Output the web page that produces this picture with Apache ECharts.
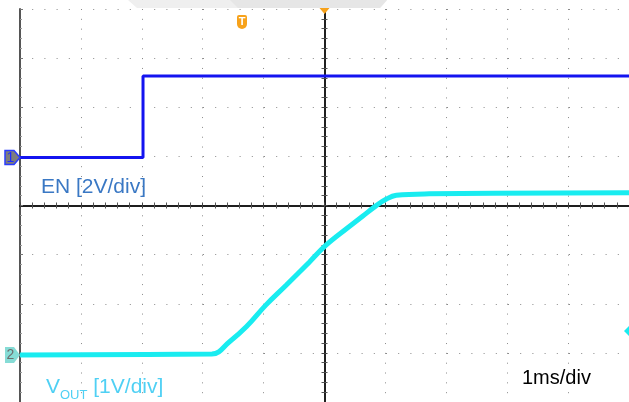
<!DOCTYPE html>
<html>
<head>
<meta charset="utf-8">
<script src="https://cdn.jsdelivr.net/npm/echarts@6/dist/echarts.min.js"></script>
<style>
html,body{margin:0;padding:0;background:#fff;}
#c{width:629px;height:402px;}
</style>
</head>
<body>
<div id="c"></div>
<script>
// ---- data (time in ms, volts) ----
var enTime   = [-5, -2.98, -2.98, 5];
var enVolts  = [0, 0, 3.32, 3.32];
var voutTime  = [-5, -1.85, -1.56, -1.28, -0.96, -0.63, -0.25, 0.02, 0.36, 0.63, 0.85, 1.01, 1.18, 1.72, 5];
var voutVolts = [0, 0.02, 0.27, 0.58, 1.02, 1.42, 1.89, 2.23, 2.57, 2.83, 3.04, 3.17, 3.25, 3.28, 3.3];
var labelEN = 'EN [2V/div]';
var labelTime = '1ms/div';

var chart = echarts.init(document.getElementById('c'), null, {renderer: 'canvas'});

function pairs(xs, ys){ return xs.map(function(x,i){ return [x, ys[i]]; }); }

var dotColor = '#8a8a8a';
var centerAxis = function(inside){
  return {
    type: 'value', min: -5, max: 5, interval: 1, gridIndex: 0,
    axisLine: {show: true, onZero: true, onZeroAxisIndex: 0, lineStyle: {color: '#111', width: 1.5}},
    axisTick: {show: true, inside: inside, length: 3, lineStyle: {color: '#444'}},
    minorTick: {show: true, splitNumber: 5, length: 3, lineStyle: {color: '#555'}},
    axisLabel: {show: false}, splitLine: {show: false}
  };
};

var xA0 = centerAxis(false);
xA0.splitLine = {show: true, lineStyle: {color: dotColor, width: 1, type: [1, 8.825]}};
var xA1 = centerAxis(true);
xA1.position = 'bottom';

var yCenter = function(inside){
  return {
    type: 'value', min: -4, max: 4, interval: 1, gridIndex: 0, position: 'left',
    axisLine: {show: true, onZero: true, onZeroAxisIndex: 0, lineStyle: {color: '#111', width: 1.5}},
    axisTick: {show: true, inside: inside, length: 3, lineStyle: {color: '#444'}},
    minorTick: {show: true, splitNumber: 5, length: 3, lineStyle: {color: '#555'}},
    axisLabel: {show: false}, splitLine: {show: false}
  };
};

var option = {
  animation: false,
  backgroundColor: '#ffffff',
  grid: {left: 20, top: 9, width: 610, height: 393, containLabel: false},
  xAxis: [xA0, xA1],
  yAxis: [
    { // left border + horizontal dotted grid
      type: 'value', min: -4, max: 4, interval: 1, gridIndex: 0, position: 'left',
      axisLine: {show: true, onZero: false, lineStyle: {color: '#555', width: 2}},
      axisTick: {show: true, inside: true, length: 3, lineStyle: {color: '#777'}},
      minorTick: {show: true, splitNumber: 5, length: 2, lineStyle: {color: '#999'}},
      axisLabel: {show: false},
      splitLine: {show: true, lineStyle: {color: dotColor, width: 1, type: [1, 11.2]}}
    },
    yCenter(false),
    yCenter(true),
    { // EN channel, 2V/div
      type: 'value', min: -9.954, max: 6.046, show: false, gridIndex: 0,
      axisLine: {onZero: false}, splitLine: {show: false}
    },
    { // VOUT channel, 1V/div
      type: 'value', min: -0.957, max: 7.043, show: false, gridIndex: 0,
      axisLine: {onZero: false}, splitLine: {show: false}
    }
  ],
  series: [
    {
      name: 'EN', type: 'line', xAxisIndex: 0, yAxisIndex: 3,
      data: pairs(enTime, enVolts), showSymbol: false, symbol: 'none',
      lineStyle: {color: '#1414f0', width: 3}, z: 5
    },
    {
      name: 'VOUT', type: 'line', xAxisIndex: 0, yAxisIndex: 4,
      data: pairs(voutTime, voutVolts), showSymbol: false, symbol: 'none', smooth: 0.4,
      lineStyle: {color: '#19ecf0', width: 5}, z: 5
    }
  ]
};
chart.setOption(option);

var g1 = chart.convertToPixel({xAxisIndex: 0, yAxisIndex: 3}, [0, 0])[1];
var g2 = chart.convertToPixel({xAxisIndex: 0, yAxisIndex: 4}, [0, 0])[1];
var trigX = chart.convertToPixel({xAxisIndex: 0, yAxisIndex: 0}, [0, 0])[0];
var font = '"Liberation Sans", Arial, sans-serif';

chart.setOption({
  graphic: [
    // top gray band
    {type: 'polygon', shape: {points: [[128,0],[387,0],[380,8],[137,8]]}, style: {fill: '#efefef'}, z: 1},
    {type: 'polygon', shape: {points: [[230,0],[387,0],[380,8],[238,8]]}, style: {fill: '#e6e6e6'}, z: 1},
    // trigger position marker
    {type: 'polygon', shape: {points: [[trigX-5,8],[trigX+5,8],[trigX,14]]}, style: {fill: '#f7a21b'}, z: 20},
    // T marker
    {type: 'rect', shape: {x: 237, y: 15, width: 10, height: 14, r: [2,2,5,5]}, style: {fill: '#f7a21b'}, z: 20},
    {type: 'text', style: {x: 242, y: 21.5, text: 'T', fill: '#fff', font: 'bold 11px ' + font, align: 'center', verticalAlign: 'middle'}, z: 21},
    // ch1 marker
    {type: 'polygon', shape: {points: [[5,g1-7],[14,g1-7],[20,g1],[14,g1+7],[5,g1+7]]}, style: {fill: '#7d7d7d', stroke: '#2a3cff', lineWidth: 1.5}, z: 20},
    {type: 'text', style: {x: 10.5, y: g1+0.5, text: '1', fill: '#1f2cff', font: '14px ' + font, align: 'center', verticalAlign: 'middle'}, z: 21},
    // ch2 marker
    {type: 'polygon', shape: {points: [[5,g2-8],[14,g2-8],[20,g2],[14,g2+8],[5,g2+8]]}, style: {fill: '#86dcd6'}, z: 20},
    {type: 'text', style: {x: 10.5, y: g2+0.5, text: '2', fill: '#6e6e6e', font: '14px ' + font, align: 'center', verticalAlign: 'middle'}, z: 21},
    // right cyan marker
    {type: 'polygon', shape: {points: [[629,326],[629,336],[624,331]]}, style: {fill: '#19ecf0'}, z: 20},
    // labels
    {type: 'text', style: {x: 41, y: 177, text: labelEN, fill: '#3a78c4', font: '21px ' + font, verticalAlign: 'top'}, z: 22},
    {type: 'text', style: {x: 46, y: 377,
      text: '{a|V}{b|OUT}{a| [1V/div]}',
      rich: {
        a: {fontSize: 21, fontFamily: font, fill: '#4fd0f4', color: '#4fd0f4', verticalAlign: 'bottom', lineHeight: 21},
        b: {fontSize: 13, fontFamily: font, fill: '#4fd0f4', color: '#4fd0f4', verticalAlign: 'bottom', lineHeight: 21, padding: [0,0,-4,0]}
      },
      verticalAlign: 'top'}, z: 22},
    {type: 'text', style: {x: 522, y: 368, text: labelTime, fill: '#000', font: '20px ' + font, verticalAlign: 'top'}, z: 22}
  ]
});
</script>
</body>
</html>
